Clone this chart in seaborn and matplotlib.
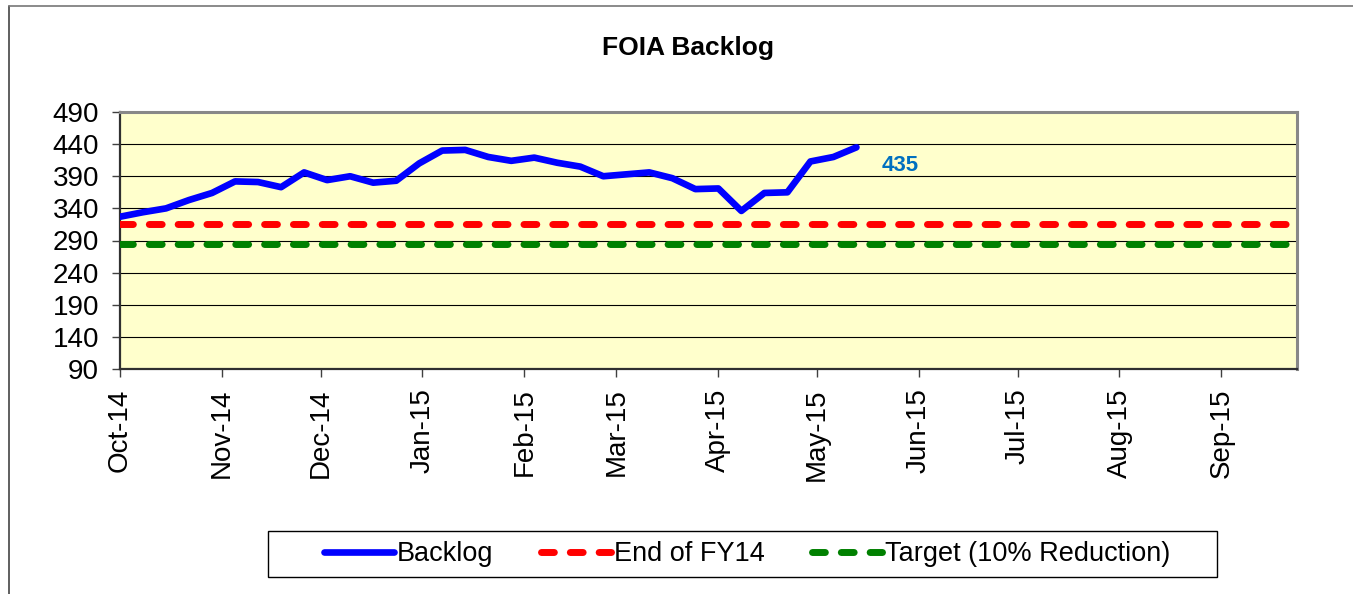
import pandas as pd
import matplotlib
matplotlib.use("Agg")
import matplotlib.pyplot as plt
import matplotlib.dates as mdates
from matplotlib.lines import Line2D
from matplotlib.patches import Rectangle
import seaborn as sns

# weekly backlog counts, starting Oct 1 2014
backlog = [327, 334, 340, 353, 364, 382, 381, 373, 396, 384, 390, 380, 383,
           410, 430, 431, 420, 414, 419, 411, 405, 390, 393, 396, 387, 370,
           371, 336, 364, 365, 413, 420, 435]
end_fy14 = 316
target = 284
start_date = "2014-10-01"
end_date = "2015-09-24"
y_ticks = [90, 140, 190, 240, 290, 340, 390, 440, 490]

dates = pd.date_range(start=start_date, periods=len(backlog), freq="7D")
ref_dates = pd.to_datetime([start_date, end_date])

df = pd.DataFrame({"Date": dates, "Backlog": backlog})
ref = pd.DataFrame({"Date": ref_dates,
                    "End of FY14": [end_fy14] * len(ref_dates),
                    "Target": [target] * len(ref_dates)})

sns.set_style("white")
plt.rcParams['font.family'] = ['Liberation Sans', 'DejaVu Sans']
plt.rcParams['text.color'] = 'black'
plt.rcParams['xtick.color'] = 'black'
plt.rcParams['ytick.color'] = 'black'

W, H = 1353, 594
fig = plt.figure(figsize=(W / 100, H / 100), dpi=100)
ax = fig.add_axes([120 / W, 1 - 369 / H, (1297 - 120) / W, (369 - 112) / H])
ax.set_facecolor("#FFFFCC")

sns.lineplot(data=df, x="Date", y="Backlog", color="#0000FF", linewidth=4.8,
             label="Backlog", solid_joinstyle="round", solid_capstyle="round",
             ax=ax, zorder=4)
sns.lineplot(data=ref, x="Date", y="End of FY14", color="#FF0000", linewidth=5,
             linestyle=(0, (1.85, 2.3)), dash_capstyle="round",
             label="End of FY14", ax=ax, zorder=3)
sns.lineplot(data=ref, x="Date", y="Target", color="#008000", linewidth=5,
             linestyle=(0, (1.85, 2.3)), dash_capstyle="round",
             label="Target (10% Reduction)", ax=ax, zorder=3)

ax.set_xlim(ref_dates[0], ref_dates[-1])
ax.set_ylim(y_ticks[0], y_ticks[-1])
ax.set_yticks(y_ticks)
ax.xaxis.set_major_locator(mdates.MonthLocator())
ax.xaxis.set_major_formatter(mdates.DateFormatter("%b-%y"))
ax.set_xlabel("")
ax.set_ylabel("")

ax.grid(axis="y", color="black", linewidth=0.8, zorder=1)
ax.set_axisbelow(True)
ax.tick_params(axis="y", direction="out", length=6, width=1, color="#404040",
               pad=9, labelsize=20, labelcolor="black", left=True)
ax.tick_params(axis="x", direction="out", length=6, width=1, color="#404040",
               pad=8, labelsize=20, labelcolor="black", rotation=90, bottom=True)

for side in ["left", "bottom"]:
    ax.spines[side].set_color("#303030")
    ax.spines[side].set_linewidth(1.6)
for side in ["top", "right"]:
    ax.spines[side].set_color("#888888")
    ax.spines[side].set_linewidth(2.2)

ax.annotate(f"{backlog[-1]}", xy=(dates[-1], backlog[-1]), xytext=(18, -13),
            textcoords="offset points", ha="left", va="center",
            color="#0070C0", fontweight="bold", fontsize=16)

fig.text(688 / W, 1 - 48 / H, "FOIA Backlog", ha="center", va="center",
         fontsize=19, fontweight="bold", color="black")

ax.get_legend().remove()
handles, labels = ax.get_legend_handles_labels()
leg = fig.legend(handles, labels, loc="center", ncol=3,
                 bbox_to_anchor=(747 / W, 1 - 554 / H),
                 fontsize=19.5, handlelength=2.6, handletextpad=0.1,
                 columnspacing=1.75, borderpad=0.3, frameon=False)

# legend box
fig.add_artist(Rectangle((268 / W, 1 - 577 / H), (1217 - 268) / W, 46 / H,
                         transform=fig.transFigure, fill=False,
                         edgecolor="black", linewidth=1.0))

# outer chart border
fig.add_artist(Line2D([9 / W, 9 / W], [0, 1 - 6 / H], color="#444444",
                      linewidth=1.2, transform=fig.transFigure))
fig.add_artist(Line2D([9 / W, 1], [1 - 6 / H, 1 - 6 / H], color="#777777",
                      linewidth=1.2, transform=fig.transFigure))

fig.savefig("out.png", dpi=100)
